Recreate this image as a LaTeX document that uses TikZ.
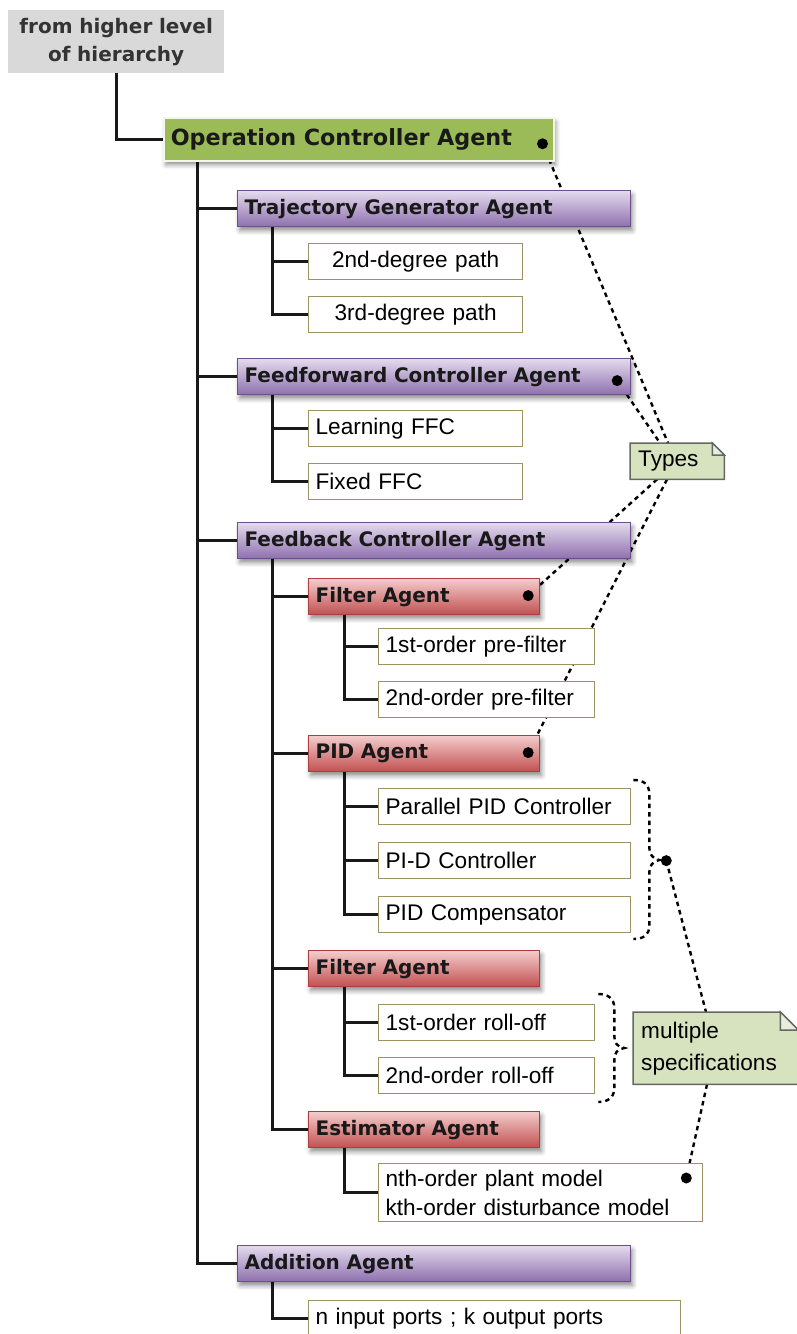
\documentclass[tikz,border=0pt]{standalone}
\usepackage{fontspec}
\setmainfont{Liberation Sans}
\newfontfamily\headfont{DejaVu Sans}
\usetikzlibrary{calc,backgrounds,shadows.blur}

\definecolor{purpletop}{RGB}{228,219,238}
\definecolor{purplebot}{RGB}{142,112,174}
\definecolor{purpleedge}{RGB}{108,78,138}
\definecolor{redtop}{RGB}{244,204,204}
\definecolor{redbot}{RGB}{194,80,80}
\definecolor{rededge}{RGB}{172,62,62}
\definecolor{rootgreen}{RGB}{155,187,89}
\definecolor{hdrgray}{RGB}{217,217,217}
\definecolor{itemedge}{RGB}{158,146,98}
\definecolor{notefill}{RGB}{215,227,190}
\definecolor{notefoldfill}{RGB}{232,238,222}
\definecolor{noteedge}{RGB}{100,104,100}
\definecolor{ink}{RGB}{25,25,25}

\newcommand\agentfont{\headfont\bfseries\fontsize{20}{28}\selectfont}
\newcommand\rootfont{\headfont\bfseries\fontsize{22.3}{26}\selectfont}
\newcommand\itemfont{\fontsize{22.6}{29}\selectfont}
\newcommand\notefont{\fontsize{22.6}{32}\selectfont}

\begin{document}
\begin{tikzpicture}[x=1pt,y=-1pt,
  sz/.style 2 args={minimum width=#1, minimum height=#2, text width=#1-14pt},
  base/.style={anchor=north west, inner xsep=7pt, inner ysep=1pt, align=left, text=ink},
  softshadow/.style={blur shadow={shadow xshift=2pt, shadow yshift=-4pt,
      shadow blur radius=4.5pt, shadow opacity=45}},
  hdrbox/.style={base, fill=hdrgray, align=center, font=\agentfont, text=black!80},
  rootbox/.style={base, fill=rootgreen, draw=white!88!rootgreen, line width=1.5pt,
      font=\rootfont, softshadow},
  agentP/.style={base, draw=purpleedge, line width=1.2pt, top color=purpletop,
      bottom color=purplebot, font=\agentfont, softshadow},
  agentR/.style={base, draw=rededge, line width=1.2pt, top color=redtop,
      bottom color=redbot, font=\agentfont, softshadow},
  item/.style={base, fill=white, draw=itemedge, line width=1.3pt, font=\itemfont, text=black},
  notebox/.style={base, font=\notefont, text=black, inner xsep=8pt},
  notebody/.style={fill=notefill, draw=noteedge, line width=1.5pt, line join=miter},
  notefold/.style={fill=notefoldfill, draw=noteedge, line width=1.5pt, line join=miter},
  conn/.style={line width=3pt, black!90},
  dashconn/.style={line width=2.4pt, dash pattern=on 4.5pt off 4pt, black},
  dot/.style={fill=black}
]
\useasboundingbox (0,0) rectangle (797,1334);
\clip (0,0) rectangle (797,1334);

% hierarchy nodes
\node[hdrbox, sz={216pt}{63pt}] (hdr) at (8,10) {from higher level\\of hierarchy};
\node[rootbox, sz={390pt}{43pt}] (oca) at (163,117) {Operation Controller Agent};

\node[agentP, sz={393pt}{36pt}] (tga) at (237,190) {Trajectory Generator Agent};
\node[item, sz={214pt}{36pt}, align=center] (p2) at (308,243) {2nd-degree path};
\node[item, sz={214pt}{36pt}, align=center] (p3) at (308,296) {3rd-degree path};

\node[agentP, sz={393pt}{36pt}] (ffc) at (237,358) {Feedforward Controller Agent};
\node[item, sz={214pt}{36pt}] (lffc) at (308,410) {Learning FFC};
\node[item, sz={214pt}{36pt}] (fffc) at (308,463) {Fixed FFC};

\node[agentP, sz={393pt}{36pt}] (fbc) at (237,522) {Feedback Controller Agent};
\node[agentR, sz={231pt}{36pt}] (fa1) at (308,578) {Filter Agent};
\node[item, sz={216pt}{36pt}] (pf1) at (378,628) {1st-order pre-filter};
\node[item, sz={216pt}{36pt}] (pf2) at (378,681) {2nd-order pre-filter};
\node[agentR, sz={231pt}{36pt}] (pid) at (308,735) {PID Agent};
\node[item, sz={252pt}{36pt}] (ppid) at (378,788) {Parallel PID Controller};
\node[item, sz={252pt}{36pt}] (pid2) at (378,842) {PI-D Controller};
\node[item, sz={252pt}{36pt}] (pidc) at (378,896) {PID Compensator};
\node[agentR, sz={231pt}{36pt}] (fa2) at (308,950) {Filter Agent};
\node[item, sz={216pt}{36pt}] (ro1) at (378,1004) {1st-order roll-off};
\node[item, sz={216pt}{36pt}] (ro2) at (378,1057) {2nd-order roll-off};
\node[agentR, sz={231pt}{36pt}] (est) at (308,1111) {Estimator Agent};
\node[item, sz={324pt}{58pt}] (estc) at (378,1163) {nth-order plant model\\kth-order disturbance model};

\node[agentP, sz={393pt}{36pt}] (add) at (237,1245) {Addition Agent};
\node[item, sz={372pt}{36pt}, inner xsep=4pt] (addc) at (308,1300) {n input ports ; k output ports};

% annotation notes
\node[notebox, sz={92pt}{36pt}] (types) at (630,443) {Types};
\node[notebox, sz={163pt}{72pt}] (spec) at (633,1012) {multiple\\specifications};

% anchor points of the annotation links
\coordinate (dOCA) at ($(oca.east)+(-12,4.5)$);
\coordinate (dFFC) at ($(ffc.east)+(-14,4)$);
\coordinate (dFA1) at ($(fa1.east)+(-12,-1)$);
\coordinate (dPID) at ($(pid.east)+(-12,-1)$);
\coordinate (dEst) at ($(estc.north east)+(-17,15)$);
\coordinate (dBr)  at ($(pid2.east)+(35,0)$);
\coordinate (brP)  at ($(ppid.north east)+(2,-8)$);
\coordinate (brF)  at ($(ro1.north east)+(3,-10)$);

\begin{scope}[on background layer]
  % tree connectors
  \draw[conn] (hdr.south) |- (oca.west);
  \coordinate (t1) at ($(oca.south west)+(34,0)$);
  \foreach \n in {tga,ffc,fbc,add} \draw[conn] (t1) |- (\n.west);
  \coordinate (t2) at ($(tga.south west)+(35,0)$);
  \foreach \n in {p2,p3} \draw[conn] (t2) |- (\n.west);
  \coordinate (t3) at ($(ffc.south west)+(35,0)$);
  \foreach \n in {lffc,fffc} \draw[conn] (t3) |- (\n.west);
  \coordinate (t4) at ($(fbc.south west)+(35,0)$);
  \foreach \n in {fa1,pid,fa2,est} \draw[conn] (t4) |- (\n.west);
  \coordinate (t5) at ($(fa1.south west)+(36,0)$);
  \foreach \n in {pf1,pf2} \draw[conn] (t5) |- (\n.west);
  \coordinate (t6) at ($(pid.south west)+(36,0)$);
  \foreach \n in {ppid,pid2,pidc} \draw[conn] (t6) |- (\n.west);
  \coordinate (t7) at ($(fa2.south west)+(36,0)$);
  \foreach \n in {ro1,ro2} \draw[conn] (t7) |- (\n.west);
  \coordinate (t8) at ($(est.south west)+(36,0)$);
  \draw[conn] (t8) |- (estc.west);
  \coordinate (t9) at ($(add.south west)+(35,0)$);
  \draw[conn] (t9) |- (addc.west);

  % annotation links
  \draw[dashconn] (dOCA) -- ($(types.north west)+(38,0)$);
  \draw[dashconn] (dFFC) -- ($(types.north west)+(30,0)$);
  \draw[dashconn] ($(types.south west)+(27,0)$) -- (dFA1);
  \draw[dashconn] ($(types.south west)+(37,0)$) -- (dPID);
  \draw[dashconn] (dBr) -- ($(spec.north west)+(73,0)$);
  \draw[dashconn] ($(spec.south west)+(74,0)$) -- (dEst);

  % folded note sheets
  \path[notebody] (types.north west) -- ($(types.north east)+(-12,0)$)
     -- ($(types.north east)+(0,12)$) -- (types.south east) -- (types.south west) -- cycle;
  \path[notefold] ($(types.north east)+(-12,0)$) -- ($(types.north east)+(-12,12)$)
     -- ($(types.north east)+(0,12)$) -- cycle;
  \path[notebody] (spec.north west) -- ($(spec.north east)+(-18,0)$)
     -- ($(spec.north east)+(0,18)$) -- (spec.south east) -- (spec.south west) -- cycle;
  \path[notefold] ($(spec.north east)+(-18,0)$) -- ($(spec.north east)+(-18,18)$)
     -- ($(spec.north east)+(0,18)$) -- cycle;
\end{scope}

% grouping braces
\draw[dashconn, shift={(brP)}] (0,0) .. controls (10,0) and (16,4) .. (16,14)
   -- (16,66) .. controls (16,74) and (19,79) .. (26,80)
   .. controls (19,81) and (16,86) .. (16,94)
   -- (16,146) .. controls (16,155) and (10,159) .. (0,159);
\draw[dashconn, shift={(brF)}] (0,0) .. controls (9,0) and (16,4) .. (16,14)
   -- (16,42) .. controls (16,49) and (19,53) .. (26,54)
   .. controls (19,55) and (16,59) .. (16,66)
   -- (16,94) .. controls (16,104) and (9,108) .. (0,108);

% link end dots
\foreach \d in {dOCA,dFFC,dFA1,dPID,dEst,dBr} \fill[dot] (\d) circle (5.5pt);
\end{tikzpicture}
\end{document}
